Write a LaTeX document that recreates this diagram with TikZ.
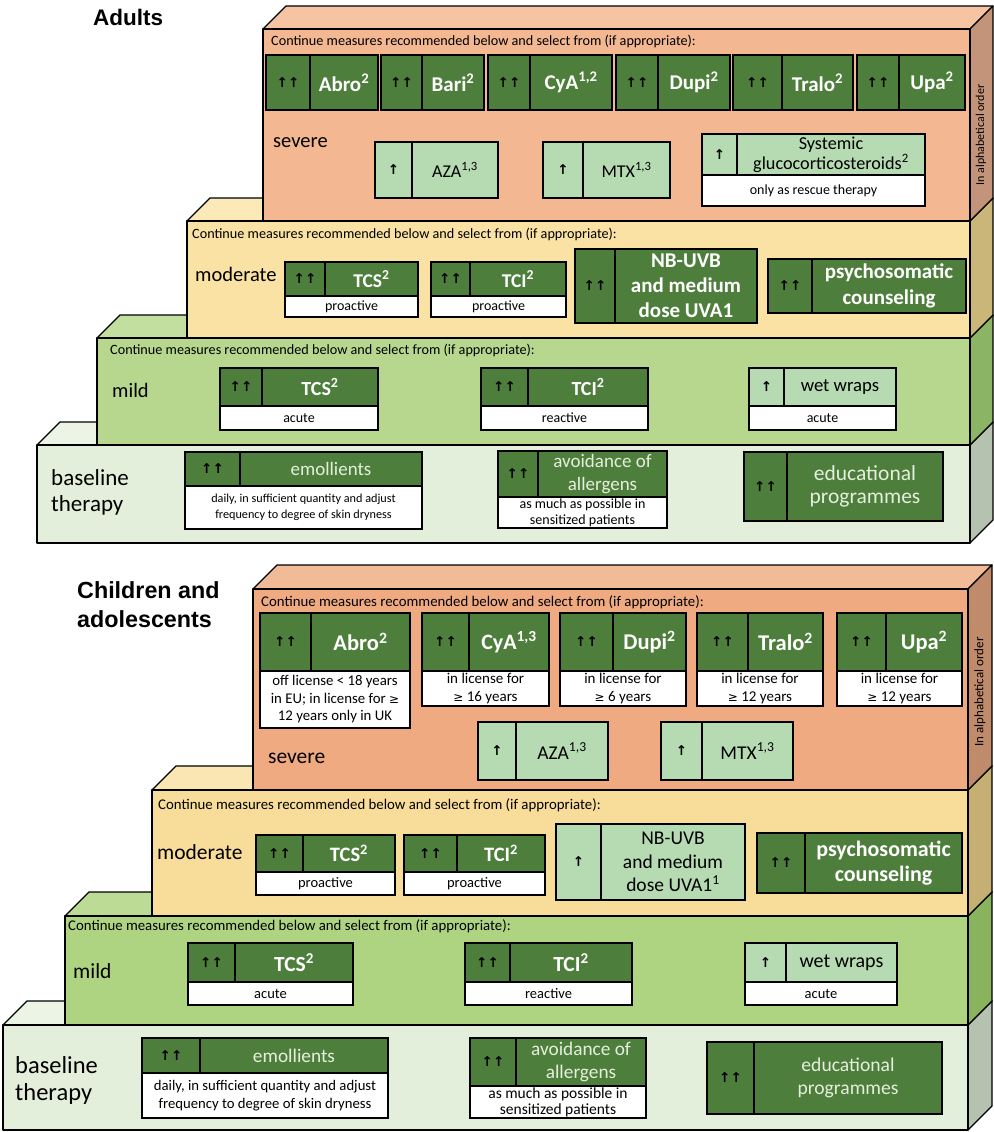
\documentclass[tikz,border=0pt]{standalone}
\usepackage{fontspec}
\setmainfont{Carlito}
\newfontfamily\titlefont{Liberation Sans}
\newfontfamily\arrowfont{DejaVu Sans}
\definecolor{dkg}{HTML}{4E7E3B}
\definecolor{ltg}{HTML}{B6DAB1}
\definecolor{ltxt}{HTML}{E4EFDD}
\definecolor{sevF}{HTML}{F3B791}\definecolor{sevT}{HTML}{F6C3A3}\definecolor{sevS}{HTML}{C4947A}
\definecolor{modF}{HTML}{F9E2A3}\definecolor{modT}{HTML}{FBE9B8}\definecolor{modS}{HTML}{CBB67A}
\definecolor{milF}{HTML}{B6D78D}\definecolor{milT}{HTML}{C3DF9F}\definecolor{milS}{HTML}{8CB465}
\definecolor{basF}{HTML}{E3EFDB}\definecolor{basT}{HTML}{ECF4E6}\definecolor{basS}{HTML}{B4C2AF}
\definecolor{csevF}{HTML}{EFAA81}\definecolor{csevT}{HTML}{F2BB98}\definecolor{csevS}{HTML}{C08B6B}
\definecolor{cmodF}{HTML}{F8DD9A}\definecolor{cmodT}{HTML}{FAE6B3}\definecolor{cmodS}{HTML}{C6AF72}
\definecolor{cmilF}{HTML}{AED482}\definecolor{cmilT}{HTML}{BCDC96}\definecolor{cmilS}{HTML}{8AB35E}
\newcommand{\arrtxtdg}{↑↑}
\newcommand{\arrtxtdgl}{↑↑}
\newcommand{\arrtxtlg}{↑}
\newcommand{\gsign}{{\arrowfont\fontsize{12}{12}\selectfont ≥}}
% 3D block: xL, yT, yB, xR, d, front, top, side
\newcommand{\blocksolid}[8]{%
  \draw[blockline, fill=#7] (#1,#2) -- ({#1+#5},{#2-#5}) -- ({#4+#5},{#2-#5}) -- (#4,#2) -- cycle;
  \draw[blockline, fill=#8] (#4,#2) -- ({#4+#5},{#2-#5}) -- ({#4+#5},{#3-#5}) -- (#4,#3) -- cycle;
  \draw[blockline, fill=#6] (#1,#2) rectangle (#4,#3);
}
% recommendation box: [text style] name, x1, xdiv, x2, y1, y2, kind, text
\newcommand{\drbox}[9][]{%
  \draw[cellline,#8] (#3,#6) rectangle (#4,#7);
  \draw[cellline,#8] (#4,#6) rectangle (#5,#7);
  \node[arrs] (#2-a) at ({(#3+#4)/2},{(#6+#7)/2}) {\csname arrtxt#8\endcsname};
  \node[#8t,#1] (#2) at ({(#4+#5)/2},{(#6+#7)/2}) {#9};
}
% white sub cell: [style] name, x1, x2, y1, y2, text
\newcommand{\subcell}[7][]{%
  \draw[cellline, fill=white] (#3,#5) rectangle (#4,#6);
  \node[subt,#1] (#2) at ({(#3+#4)/2},{(#5+#6)/2}) {#7};
}
\begin{document}
\begin{tikzpicture}[x=1pt,y=-1pt,
  blockline/.style={draw=black, line width=1.3pt, line join=round},
  cellline/.style={draw=black, line width=1.8pt},
  dg/.style={fill=dkg}, dgl/.style={fill=dkg}, lg/.style={fill=ltg},
  arrs/.style={font=\arrowfont\bfseries\fontsize{13.5}{14}\selectfont, inner sep=0pt},
  dgt/.style={text=white, font=\bfseries\fontsize{21}{25}\selectfont, align=center, inner sep=0pt},
  dglt/.style={text=ltxt, font=\fontsize{19}{23}\selectfont, align=center, inner sep=0pt},
  lgt/.style={text=black, font=\fontsize{18}{21}\selectfont, align=center, inner sep=0pt},
  subt/.style={text=black, font=\fontsize{14}{16}\selectfont, align=center, inner sep=0pt},
  hdr/.style={anchor=base west, font=\fontsize{14.2}{16}\selectfont, inner sep=0pt},
  lvl/.style={anchor=base west, font=\fontsize{20.5}{24}\selectfont, inner sep=0pt},
  ttl/.style={anchor=base west, font=\titlefont\bfseries\fontsize{22.5}{27}\selectfont, inner sep=0pt},
  side/.style={rotate=90, font=\fontsize{12}{14}\selectfont, inner sep=0pt}
]
\useasboundingbox (0,0) rectangle (993,1132);
\fill[white] (0,0) rectangle (993,1132);

%================ ADULTS =================
\blocksolid{37}{445}{543}{970}{23}{basF}{basT}{basS}
\blocksolid{97}{338}{445}{970}{23}{milF}{milT}{milS}
\blocksolid{187}{221}{338}{970}{23}{modF}{modT}{modS}
\blocksolid{263}{29}{221}{970}{23}{sevF}{sevT}{sevS}

\node[ttl] (adults) at (93,26) {Adults};
\node[side] (alpha1) at (981,135) {In alphabetical order};

% severe
\node[hdr] (ahs) at (271,46) {Continue measures recommended below and select from (if appropriate):};
\node[lvl] (asev) at (273,147) {severe};
\drbox{aabro}{266}{310}{378}{55}{110}{dg}{Abro\textsuperscript{2}}
\drbox{abari}{381}{422}{484}{55}{110}{dg}{Bari\textsuperscript{2}}
\drbox{acya}{488}{530}{612}{55}{110}{dg}{CyA\textsuperscript{1,2}}
\drbox{adupi}{616}{658}{730}{55}{110}{dg}{Dupi\textsuperscript{2}}
\drbox{atralo}{733}{782}{853}{55}{110}{dg}{Tralo\textsuperscript{2}}
\drbox{aupa}{857}{899}{965}{55}{110}{dg}{Upa\textsuperscript{2}}
\drbox{aaza}{375}{412}{498}{142}{198}{lg}{AZA\textsuperscript{1,3}}
\drbox{amtx}{543}{583}{670}{142}{198}{lg}{MTX\textsuperscript{1,3}}
\drbox[font=\fontsize{18.2}{20}\selectfont]{asys}{702}{737}{925}{134}{175}{lg}{Systemic\\glucocorticosteroids\textsuperscript{2}}
\subcell{asyss}{702}{925}{175}{206}{only as rescue therapy}

% moderate
\node[hdr] (ahm) at (192,238) {Continue measures recommended below and select from (if appropriate):};
\node[lvl] (amod) at (195,281) {moderate};
\drbox[font=\bfseries\fontsize{19.5}{22}\selectfont]{atcsm}{285}{325}{418}{262}{296}{dg}{TCS\textsuperscript{2}}
\subcell{atcsms}{285}{418}{296}{317}{proactive}
\drbox[font=\bfseries\fontsize{19.5}{22}\selectfont]{atcim}{431}{470}{566}{262}{296}{dg}{TCI\textsuperscript{2}}
\subcell{atcims}{431}{566}{296}{317}{proactive}
\drbox[font=\bfseries\fontsize{21}{25}\selectfont]{anbuvb}{575}{615}{757}{249}{323}{dg}{NB-UVB\\and medium\\dose UVA1}
\drbox[font=\bfseries\fontsize{21}{26}\selectfont]{apsy}{768}{812}{966}{259}{313}{dg}{psychosomatic\\counseling}

% mild
\node[hdr] (ahl) at (110,354) {Continue measures recommended below and select from (if appropriate):};
\node[lvl] (amil) at (112,397) {mild};
\drbox[font=\bfseries\fontsize{20}{24}\selectfont]{atcsl}{220}{262}{378}{368}{406}{dg}{TCS\textsuperscript{2}}
\subcell{atcsls}{220}{378}{406}{430}{acute}
\drbox[font=\bfseries\fontsize{20}{24}\selectfont]{atcil}{481}{528}{648}{368}{406}{dg}{TCI\textsuperscript{2}}
\subcell{atcils}{481}{648}{406}{430}{reactive}
\drbox[font=\fontsize{18.7}{22}\selectfont]{awet}{749}{784}{896}{368}{406}{lg}{wet wraps}
\subcell{awets}{749}{896}{406}{430}{acute}

% baseline
\node[lvl, font=\fontsize{23}{27}\selectfont] (abase1) at (51,485) {baseline};
\node[lvl, font=\fontsize{23}{27}\selectfont] (abase2) at (51,511) {therapy};
\drbox{aemo}{185}{240}{422}{452}{486}{dgl}{emollients}
\subcell[font=\fontsize{12.2}{16}\selectfont]{aemos}{185}{422}{486}{529}{daily, in sufficient quantity and adjust\\frequency to degree of skin dryness}
\drbox[font=\fontsize{19}{23}\selectfont]{aavo}{498}{538}{667}{451}{497}{dgl}{avoidance of\\allergens}
\subcell[font=\fontsize{14}{16}\selectfont]{aavos}{498}{667}{497}{528}{as much as possible in\\sensitized patients}
\drbox[font=\fontsize{21.5}{23}\selectfont]{aedu}{744}{787}{943}{452}{521}{dgl}{educational\\programmes}

%================ CHILDREN =================
\blocksolid{3}{1025}{1130}{968}{24}{basF}{basT}{basS}
\blocksolid{65}{916}{1025}{968}{24}{cmilF}{cmilT}{cmilS}
\blocksolid{152}{790}{916}{968}{24}{cmodF}{cmodT}{cmodS}
\blocksolid{253}{589}{790}{968}{24}{csevF}{csevT}{csevS}

\node[ttl, font=\titlefont\bfseries\fontsize{23.3}{28}\selectfont] (child1) at (77,598) {Children and};
\node[ttl, font=\titlefont\bfseries\fontsize{23.3}{28}\selectfont] (child2) at (77,627) {adolescents};
\node[side, font=\fontsize{13}{15}\selectfont] (alpha2) at (980,692) {In alphabetical order};

% severe
\node[hdr, font=\fontsize{14.8}{16}\selectfont] (chs) at (261,606) {Continue measures recommended below and select from (if appropriate):};
\node[lvl, font=\fontsize{21.5}{25}\selectfont] (csev) at (268,763) {severe};
\drbox[font=\bfseries\fontsize{22.5}{26}\selectfont]{cabro}{260}{311}{410}{613}{671}{dg}{Abro\textsuperscript{2}}
\subcell[font=\fontsize{14.8}{17.5}\selectfont]{cabros}{260}{410}{671}{728}{off license < 18 years\\in EU; in license for \gsign\\12 years only in UK}
\drbox[font=\bfseries\fontsize{22}{26}\selectfont]{ccya}{422}{469}{549}{613}{671}{dg}{CyA\textsuperscript{1,3}}
\subcell[font=\fontsize{15}{17.5}\selectfont]{ccyas}{422}{549}{671}{706}{in license for\\\gsign{} 16 years}
\drbox[font=\bfseries\fontsize{22.5}{26}\selectfont]{cdupi}{560}{613}{686}{613}{671}{dg}{Dupi\textsuperscript{2}}
\subcell[font=\fontsize{15}{17.5}\selectfont]{cdupis}{560}{686}{671}{706}{in license for\\\gsign{} 6 years}
\drbox[font=\bfseries\fontsize{22.5}{26}\selectfont]{ctralo}{697}{748}{823}{613}{671}{dg}{Tralo\textsuperscript{2}}
\subcell[font=\fontsize{15}{17.5}\selectfont]{ctralos}{697}{823}{671}{706}{in license for\\\gsign{} 12 years}
\drbox[font=\bfseries\fontsize{22.5}{26}\selectfont]{cupa}{837}{886}{962}{613}{671}{dg}{Upa\textsuperscript{2}}
\subcell[font=\fontsize{15}{17.5}\selectfont]{cupas}{837}{962}{671}{706}{in license for\\\gsign{} 12 years}
\drbox[font=\fontsize{19.5}{22}\selectfont]{caza}{478}{516}{608}{722}{780}{lg}{AZA\textsuperscript{1,3}}
\drbox[font=\fontsize{19.5}{22}\selectfont]{cmtx}{661}{702}{793}{722}{780}{lg}{MTX\textsuperscript{1,3}}

% moderate
\node[hdr, font=\fontsize{14.8}{16}\selectfont] (chm) at (158,809) {Continue measures recommended below and select from (if appropriate):};
\node[lvl, font=\fontsize{21.5}{25}\selectfont] (cmod) at (157,859) {moderate};
\drbox[font=\bfseries\fontsize{20.5}{24}\selectfont]{ctcsm}{256}{303}{395}{835}{872}{dg}{TCS\textsuperscript{2}}
\subcell[font=\fontsize{14.5}{17}\selectfont]{ctcsms}{256}{395}{872}{895}{proactive}
\drbox[font=\bfseries\fontsize{20.5}{24}\selectfont]{ctcim}{404}{457}{545}{835}{872}{dg}{TCI\textsuperscript{2}}
\subcell[font=\fontsize{14.5}{17}\selectfont]{ctcims}{404}{545}{872}{895}{proactive}
\drbox[font=\fontsize{19.5}{23.5}\selectfont]{cnbuvb}{556}{601}{745}{824}{900}{lg}{NB-UVB\\and medium\\dose UVA1\textsuperscript{1}}
\drbox[font=\bfseries\fontsize{22}{25}\selectfont]{cpsy}{757}{805}{962}{833}{893}{dg}{psychosomatic\\counseling}

% mild
\node[hdr, font=\fontsize{14.8}{16}\selectfont] (chl) at (68,930) {Continue measures recommended below and select from (if appropriate):};
\node[lvl, font=\fontsize{21.5}{25}\selectfont] (cmil) at (73,978) {mild};
\drbox[font=\bfseries\fontsize{21.5}{24}\selectfont]{ctcsl}{188}{235}{353}{943}{982}{dg}{TCS\textsuperscript{2}}
\subcell[font=\fontsize{14.5}{17}\selectfont]{ctcsls}{188}{353}{982}{1005}{acute}
\drbox[font=\bfseries\fontsize{21.5}{24}\selectfont]{ctcil}{465}{510}{632}{943}{982}{dg}{TCI\textsuperscript{2}}
\subcell[font=\fontsize{14.5}{17}\selectfont]{ctcils}{465}{632}{982}{1005}{reactive}
\drbox[font=\fontsize{20}{23}\selectfont]{cwet}{745}{786}{897}{943}{982}{lg}{wet wraps}
\subcell[font=\fontsize{14.5}{17}\selectfont]{cwets}{745}{897}{982}{1005}{acute}

% baseline
\node[lvl, font=\fontsize{24.5}{28}\selectfont] (cbase1) at (15,1073) {baseline};
\node[lvl, font=\fontsize{24.5}{28}\selectfont] (cbase2) at (15,1100) {therapy};
\drbox[font=\fontsize{19.3}{24}\selectfont]{cemo}{142}{200}{388}{1038}{1073}{dgl}{emollients}
\subcell[font=\fontsize{14.7}{18}\selectfont]{cemos}{142}{388}{1073}{1118}{daily, in sufficient quantity and adjust\\frequency to degree of skin dryness}
\drbox[font=\fontsize{19.3}{23}\selectfont]{cavo}{470}{516}{646}{1038}{1086}{dgl}{avoidance of\\allergens}
\subcell[font=\fontsize{15.5}{16}\selectfont]{cavos}{470}{646}{1086}{1118}{as much as possible in\\sensitized patients}
\drbox[font=\fontsize{19.6}{23}\selectfont]{cedu}{707}{754}{942}{1042}{1114}{dgl}{educational\\programmes}
\end{tikzpicture}
\end{document}
